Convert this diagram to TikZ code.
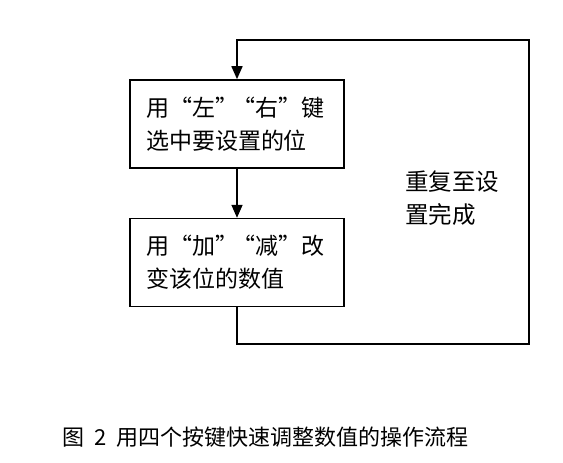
\documentclass[tikz,border=0pt]{standalone}
\usepackage{fontspec}
\setmainfont{Noto Sans CJK SC}
\usetikzlibrary{arrows.meta, positioning}
\tikzstyle{process} = [rectangle, minimum width=214pt, minimum height=88pt, text width=182pt, align=left, draw=black, line width=1.6pt, font=\fontsize{23}{33}\selectfont]
\tikzstyle{arrow} = [line width=1.6pt, -{Triangle[length=13pt,width=11pt]}]
\tikzstyle{note} = [align=left, inner sep=0pt, font=\fontsize{23.5}{33}\selectfont]
\newcommand{\qgap}{\kern-6pt}

\begin{document}
\begin{tikzpicture}[x=1pt, y=-1pt]
\useasboundingbox (0,0) rectangle (563,463);
\node (select) [process] at (237,124) {用“左”\qgap“右”键\\选中要设置的位};
\node (change) [process, below=49pt of select] {用“加”\qgap“减”改\\变该位的数值};
\coordinate (loopbr) at (529,344);
\coordinate (looptr) at (529,40);
\draw [arrow] (select) -- (change);
\draw [arrow] (change.south) |- (loopbr) -- (looptr) -| (select.north);
\node (repeat) [note, anchor=west] at (405,198) {重复至设\\置完成};
\node (caption) [note, anchor=west, font=\fontsize{22}{24}\selectfont] at (62,437) {图\hspace{10pt}2\hspace{10pt}用四个按键快速调整数值的操作流程};
\end{tikzpicture}
\end{document}
